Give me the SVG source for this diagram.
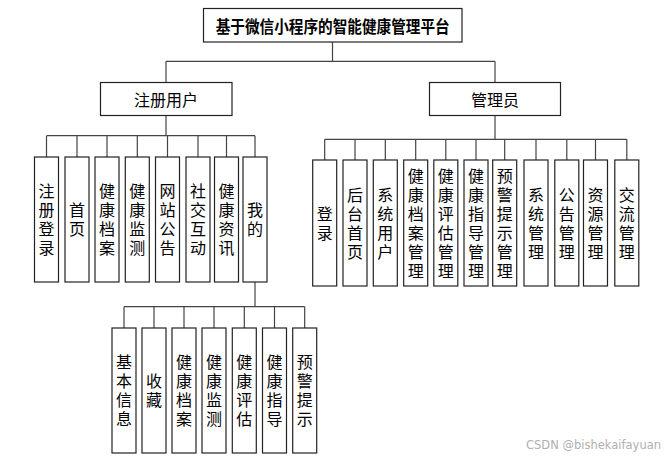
<svg xmlns="http://www.w3.org/2000/svg" width="664" height="467" viewBox="0 0 664 467">
<style>
.box{fill:#fff;stroke:#222;stroke-width:1.2}
.ln{fill:none;stroke:#444;stroke-width:1.2}
.t{font-family:"Noto Sans CJK SC","Noto Sans",sans-serif;font-size:16px;fill:#000;text-anchor:middle;dominant-baseline:central}
.tb{font-weight:bold;font-size:16.5px}
.v{font-family:"Noto Sans CJK SC","Noto Sans",sans-serif;font-size:16px;fill:#000;text-anchor:middle;writing-mode:vertical-rl;letter-spacing:3px}
.wm{font-family:"DejaVu Sans","Liberation Sans",sans-serif;font-size:11.5px;fill:#b0b0b0}
</style>
<rect width="664" height="467" fill="#fff"/>
<g id="connectors">
<path class="ln" d="M332.5 42V61.3M166 61.3H495M166 61.3V82M495 61.3V82"/>
<path class="ln" d="M166 115V135.7M46.5 135.7H255M46.5 135.7V157M77 135.7V157M107 135.7V157M137.3 135.7V157M167.5 135.7V157M198 135.7V157M226.5 135.7V157M255 135.7V157"/>
<path class="ln" d="M495 115V139.3M324.7 139.3H626.8M324.7 139.3V160M355 139.3V160M385.3 139.3V160M415.7 139.3V160M445.8 139.3V160M476 139.3V160M504.7 139.3V160M536 139.3V160M566.8 139.3V160M595.5 139.3V160M626.8 139.3V160"/>
<path class="ln" d="M255 282V306.7M124 306.7H304.7M124 306.7V328M154 306.7V328M184 306.7V328M214 306.7V328M244.3 306.7V328M274.5 306.7V328M304.7 306.7V328"/>
</g>
<g id="root"><rect class="box" x="203.5" y="8.5" width="258.5" height="33.5"/><text class="t tb" x="332.7" y="25.5" textLength="234" lengthAdjust="spacingAndGlyphs">基于微信小程序的智能健康管理平台</text></g>
<g id="user"><rect class="box" x="100.5" y="82.5" width="131.5" height="33"/><text class="t" x="166" y="99">注册用户</text></g>
<g id="admin"><rect class="box" x="429.5" y="82.5" width="131" height="33"/><text class="t" x="495" y="99">管理员</text></g>

<g id="u1"><rect class="box" x="34.5" y="157" width="24" height="125"/><text class="v" x="46.5" y="221">注册登录</text></g>
<g id="u2"><rect class="box" x="65" y="157" width="24" height="125"/><text class="v" x="77" y="221">首页</text></g>
<g id="u3"><rect class="box" x="95" y="157" width="24" height="125"/><text class="v" x="107" y="221">健康档案</text></g>
<g id="u4"><rect class="box" x="125.3" y="157" width="24" height="125"/><text class="v" x="137.3" y="221">健康监测</text></g>
<g id="u5"><rect class="box" x="155.5" y="157" width="24" height="125"/><text class="v" x="167.5" y="221">网站公告</text></g>
<g id="u6"><rect class="box" x="186" y="157" width="24" height="125"/><text class="v" x="198" y="221">社交互动</text></g>
<g id="u7"><rect class="box" x="214.5" y="157" width="24" height="125"/><text class="v" x="226.5" y="221">健康资讯</text></g>
<g id="u8"><rect class="box" x="243" y="157" width="24" height="125"/><text class="v" x="255" y="221">我的</text></g>

<g id="a1"><rect class="box" x="312.7" y="160" width="24" height="126"/><text class="v" x="324.7" y="224.5">登录</text></g>
<g id="a2"><rect class="box" x="343" y="160" width="24" height="126"/><text class="v" x="355" y="224.5">后台首页</text></g>
<g id="a3"><rect class="box" x="373.3" y="160" width="24" height="126"/><text class="v" x="385.3" y="224.5">系统用户</text></g>
<g id="a4"><rect class="box" x="403.7" y="160" width="24" height="126"/><text class="v" x="415.7" y="224.5">健康档案管理</text></g>
<g id="a5"><rect class="box" x="433.8" y="160" width="24" height="126"/><text class="v" x="445.8" y="224.5">健康评估管理</text></g>
<g id="a6"><rect class="box" x="464" y="160" width="24" height="126"/><text class="v" x="476" y="224.5">健康指导管理</text></g>
<g id="a7"><rect class="box" x="492.7" y="160" width="24" height="126"/><text class="v" x="504.7" y="224.5">预警提示管理</text></g>
<g id="a8"><rect class="box" x="524" y="160" width="24" height="126"/><text class="v" x="536" y="224.5">系统管理</text></g>
<g id="a9"><rect class="box" x="554.8" y="160" width="24" height="126"/><text class="v" x="566.8" y="224.5">公告管理</text></g>
<g id="a10"><rect class="box" x="583.5" y="160" width="24" height="126"/><text class="v" x="595.5" y="224.5">资源管理</text></g>
<g id="a11"><rect class="box" x="614.8" y="160" width="24" height="126"/><text class="v" x="626.8" y="224.5">交流管理</text></g>

<g id="m1"><rect class="box" x="112" y="328" width="24" height="125"/><text class="v" x="124" y="392">基本信息</text></g>
<g id="m2"><rect class="box" x="142" y="328" width="24" height="125"/><text class="v" x="154" y="392">收藏</text></g>
<g id="m3"><rect class="box" x="172" y="328" width="24" height="125"/><text class="v" x="184" y="392">健康档案</text></g>
<g id="m4"><rect class="box" x="202" y="328" width="24" height="125"/><text class="v" x="214" y="392">健康监测</text></g>
<g id="m5"><rect class="box" x="232.3" y="328" width="24" height="125"/><text class="v" x="244.3" y="392">健康评估</text></g>
<g id="m6"><rect class="box" x="262.5" y="328" width="24" height="125"/><text class="v" x="274.5" y="392">健康指导</text></g>
<g id="m7"><rect class="box" x="292.7" y="328" width="24" height="125"/><text class="v" x="304.7" y="392">预警提示</text></g>

<text class="wm" x="526" y="449">CSDN @bishekaifayuan</text>
</svg>
